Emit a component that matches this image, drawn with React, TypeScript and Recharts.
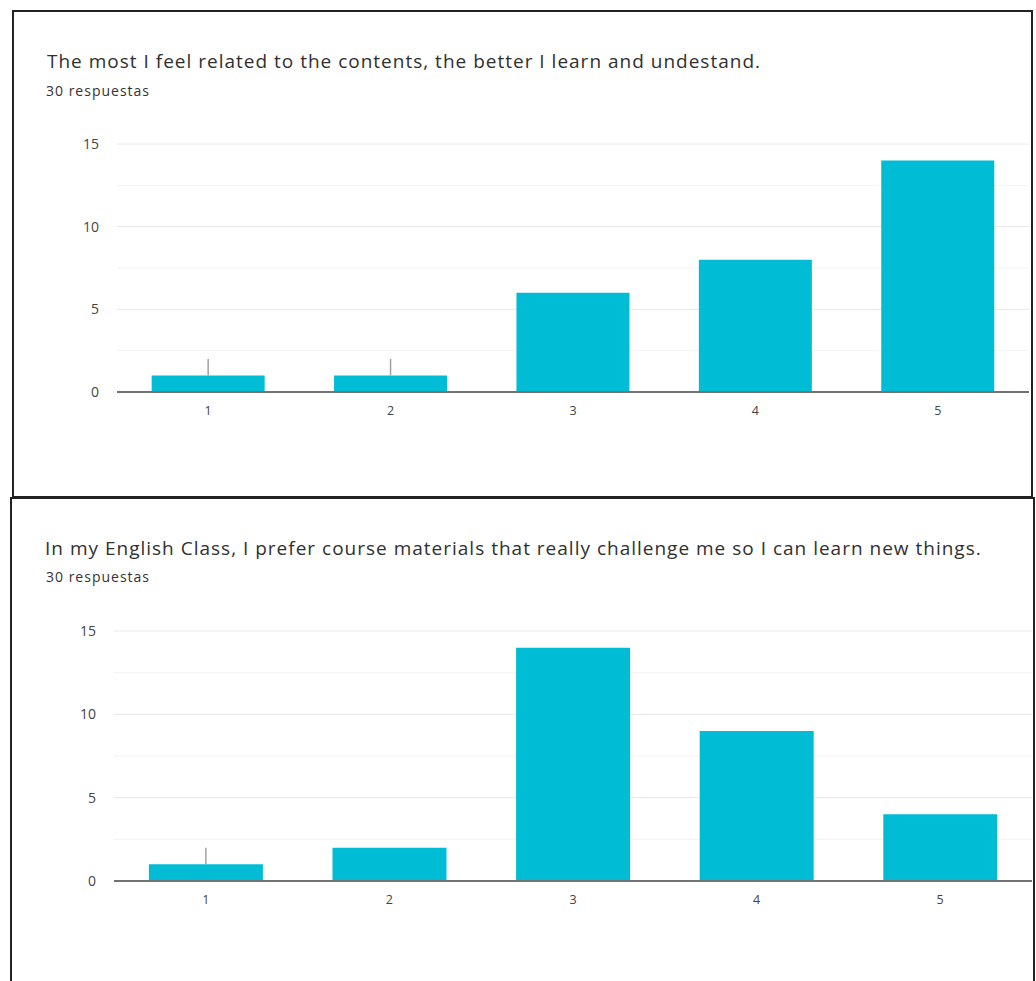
import React from "react";
import {
  BarChart, Bar, XAxis, YAxis, CartesianGrid, ErrorBar,
} from "recharts";

const categories = ["1", "2", "3", "4", "5"];
const relatedValues = [1, 1, 6, 8, 14];
const relatedMarks = [1, 1, 0, 0, 0];
const challengeValues = [1, 2, 14, 9, 4];
const challengeMarks = [1, 0, 0, 0, 0];
const yTicks = [0, 5, 10, 15];
const minorLines = [2.5, 7.5, 12.5];

const TITLE_1 = "The most I feel related to the contents, the better I learn and undestand.";
const TITLE_2 = "In my English Class, I prefer course materials that really challenge me so I can learn new things.";
const SUBTITLE = "30 respuestas";

const BAR = "#00bcd4";
const FONT = "'Open Sans', Roboto, sans-serif";

function build(values: number[], marks: number[]) {
  return categories.map((c, i) => ({
    name: c,
    count: values[i],
    mark: [0, marks[i]],
  }));
}

interface ChartProps {
  data: { name: string; count: number; mark: number[] }[];
  left: number;
  top: number;
  margin: { top: number; right: number; left: number; bottom: number };
}

function FormChart({ data, left, top, margin }: ChartProps) {
  return (
    <div style={{ position: "absolute", left, top }}>
      <BarChart width={980} height={300} data={data} margin={margin} barCategoryGap="19%">
        <CartesianGrid vertical={false} stroke="#f2f2f2" horizontalValues={minorLines} />
        <CartesianGrid vertical={false} stroke="#e8e8e8" horizontalValues={yTicks.slice(1)} />
        <XAxis
          dataKey="name"
          axisLine={{ stroke: "#737373", strokeWidth: 2 }}
          tickLine={false}
          tickMargin={8}
          tick={{ fill: "#444", fontSize: 12.5, fontFamily: FONT }}
          height={30}
        />
        <YAxis
          domain={[0, 15]}
          ticks={yTicks}
          axisLine={false}
          tickLine={false}
          tickMargin={12}
          width={45}
          tick={{ fill: "#444", fontSize: 14, fontFamily: FONT }}
        />
        <Bar dataKey="count" fill={BAR} isAnimationActive={false}>
          <ErrorBar dataKey="mark" width={0} stroke="#a0a0a0" strokeWidth={1.5} direction="y" />
        </Bar>
      </BarChart>
    </div>
  );
}

const titleStyle: React.CSSProperties = {
  position: "absolute",
  fontFamily: FONT,
  fontSize: 19,
  letterSpacing: 1,
  color: "#303030",
  whiteSpace: "nowrap",
};

const subStyle: React.CSSProperties = {
  position: "absolute",
  fontFamily: FONT,
  fontSize: 14,
  letterSpacing: 1,
  color: "#333",
  whiteSpace: "nowrap",
};

export default function App() {
  return (
    <div style={{ position: "absolute", left: 0, top: 0, width: 1036, height: 981, background: "#fff", overflow: "hidden" }}>
      <div style={{ position: "absolute", left: 12, top: 10, width: 1017, height: 484, border: "2px solid #222" }} />
      <div style={{ position: "absolute", left: 10, top: 497, width: 1021, height: 500, border: "2px solid #222" }} />

      <div style={{ ...titleStyle, left: 47, top: 48 }}>{TITLE_1}</div>
      <div style={{ ...subStyle, left: 46, top: 81 }}>{SUBTITLE}</div>
      <FormChart
        data={build(relatedValues, relatedMarks)}
        left={60}
        top={130}
        margin={{ top: 14, right: 11, left: 12, bottom: 8 }}
      />

      <div style={{ ...titleStyle, left: 45, top: 535 }}>{TITLE_2}</div>
      <div style={{ ...subStyle, left: 46, top: 567 }}>{SUBTITLE}</div>
      <FormChart
        data={build(challengeValues, challengeMarks)}
        left={60}
        top={617}
        margin={{ top: 14, right: 8, left: 9, bottom: 6 }}
      />
    </div>
  );
}
